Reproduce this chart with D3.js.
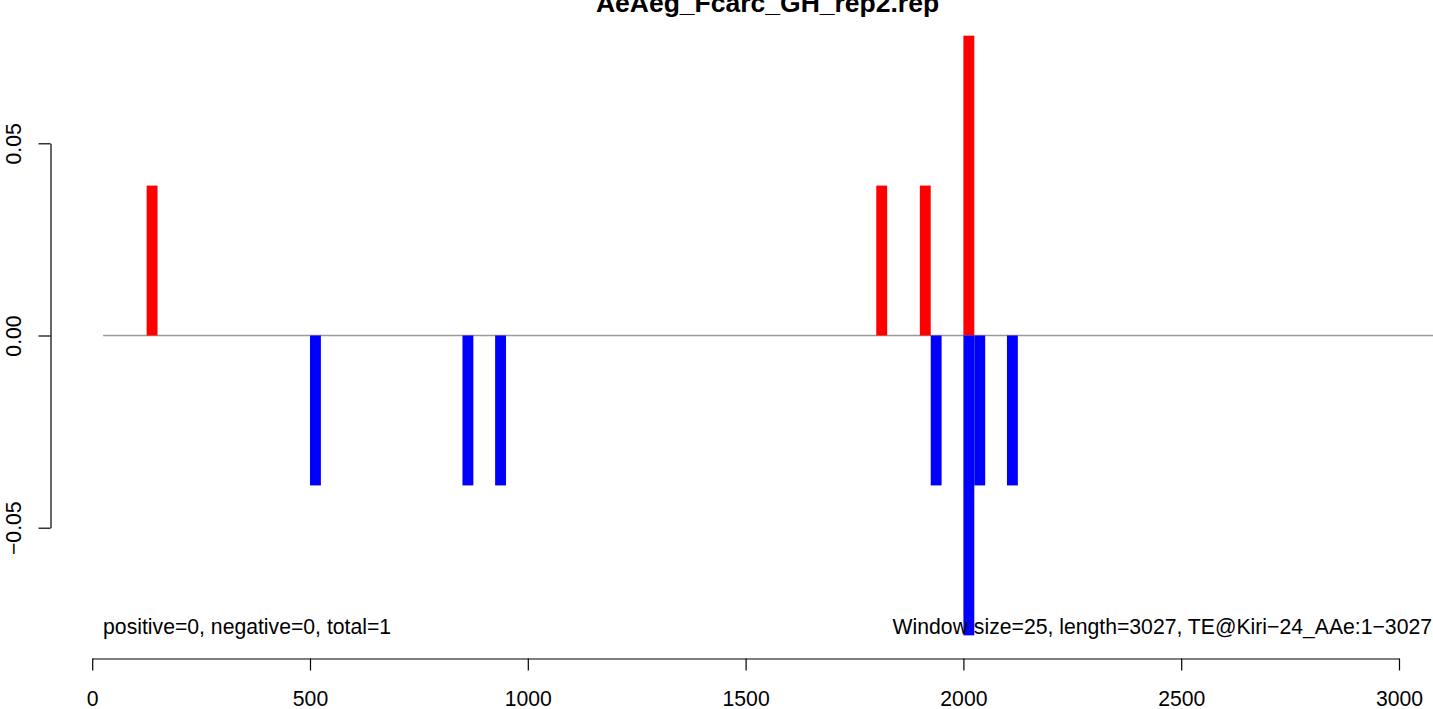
<!DOCTYPE html>
<html>
<head>
<meta charset="utf-8">
<script src="https://cdn.jsdelivr.net/npm/d3@7"></script>
<style>
  html, body { margin: 0; padding: 0; background: #fff; }
  svg { display: block; }
  text { font-family: "Liberation Sans", Arial, Helvetica, sans-serif; }
</style>
</head>
<body>
<svg id="chart" width="1433" height="709"></svg>
<script>
// ---- data ----
const titleText = "AeAeg_Fcarc_GH_rep2.rep";
const windowSize = 25;
const posStarts = [125, 1800, 1900, 2000];
const posValues = [0.039, 0.039, 0.039, 0.078];
const negStarts = [500, 850, 925, 1925, 2000, 2025, 2100];
const negValues = [-0.039, -0.039, -0.039, -0.039, -0.078, -0.039, -0.039];
const xTicks = [0, 500, 1000, 1500, 2000, 2500, 3000];
const yTicks = [-0.05, 0, 0.05];
const yTickLabels = ["\u22120.05", "0.00", "0.05"];
const leftNote = "positive=0, negative=0, total=1";
const rightNote = "Window size=25, length=3027, TE@Kiri\u221224_AAe:1\u22123027";
const lineStart = 25;

// ---- layout ----
const W = 1433, H = 709;
const svg = d3.select("#chart");
const x = d3.scaleLinear().domain([0, 3000]).range([92.2, 1399]);
const y = d3.scaleLinear().domain([-0.05, 0.05]).range([527.7, 143.3]);
const fs = 21.2;

// zero line
svg.append("line")
  .attr("x1", x(lineStart)).attr("x2", W)
  .attr("y1", y(0)).attr("y2", y(0))
  .attr("stroke", "#9a9a9a").attr("stroke-width", 1.3);

// bars
const pos = posStarts.map((s, i) => ({s, v: posValues[i]}));
const neg = negStarts.map((s, i) => ({s, v: negValues[i]}));
svg.append("g").selectAll("rect").data(pos).join("rect")
  .attr("x", d => x(d.s)).attr("width", d => x(d.s + windowSize) - x(d.s))
  .attr("y", d => y(d.v)).attr("height", d => y(0) - y(d.v))
  .attr("fill", "#ff0000");
svg.append("g").selectAll("rect").data(neg).join("rect")
  .attr("x", d => x(d.s)).attr("width", d => x(d.s + windowSize) - x(d.s))
  .attr("y", y(0)).attr("height", d => y(d.v) - y(0))
  .attr("fill", "#0000ff");

// x axis
const gx = svg.append("g").attr("transform", "translate(0,658.5)")
  .call(d3.axisBottom(x).tickValues(xTicks).tickFormat(d3.format("d"))
    .tickSize(12).tickSizeOuter(0).tickPadding(20));
gx.selectAll("path,line").attr("stroke", "#000").attr("stroke-width", 1.2);
gx.selectAll("text").attr("font-size", fs).attr("fill", "#000")
  .attr("font-family", "Liberation Sans, Arial, sans-serif");

// y axis
const gy = svg.append("g").attr("transform", "translate(50.5,0)")
  .call(d3.axisLeft(y).tickValues(yTicks)
    .tickFormat((d, i) => yTickLabels[i]).tickSize(12).tickSizeOuter(0));
gy.selectAll("path,line").attr("stroke", "#000").attr("stroke-width", 1.2);
gy.selectAll("text")
  .attr("font-size", fs).attr("fill", "#000")
  .attr("font-family", "Liberation Sans, Arial, sans-serif")
  .attr("text-anchor", "middle")
  .attr("transform", "rotate(-90)")
  .attr("x", 0).attr("y", -29.5).attr("dy", 0);

// title
svg.append("text").attr("x", 767.5).attr("y", 12)
  .attr("text-anchor", "middle").attr("font-weight", "bold")
  .attr("font-size", 26.5).attr("fill", "#000").text(titleText);

// notes
svg.append("text").attr("x", x(lineStart)).attr("y", 634)
  .attr("font-size", fs).attr("fill", "#000").text(leftNote);
svg.append("text").attr("x", 1432).attr("y", 634)
  .attr("text-anchor", "end")
  .attr("font-size", fs).attr("fill", "#000").text(rightNote);
</script>
</body>
</html>
